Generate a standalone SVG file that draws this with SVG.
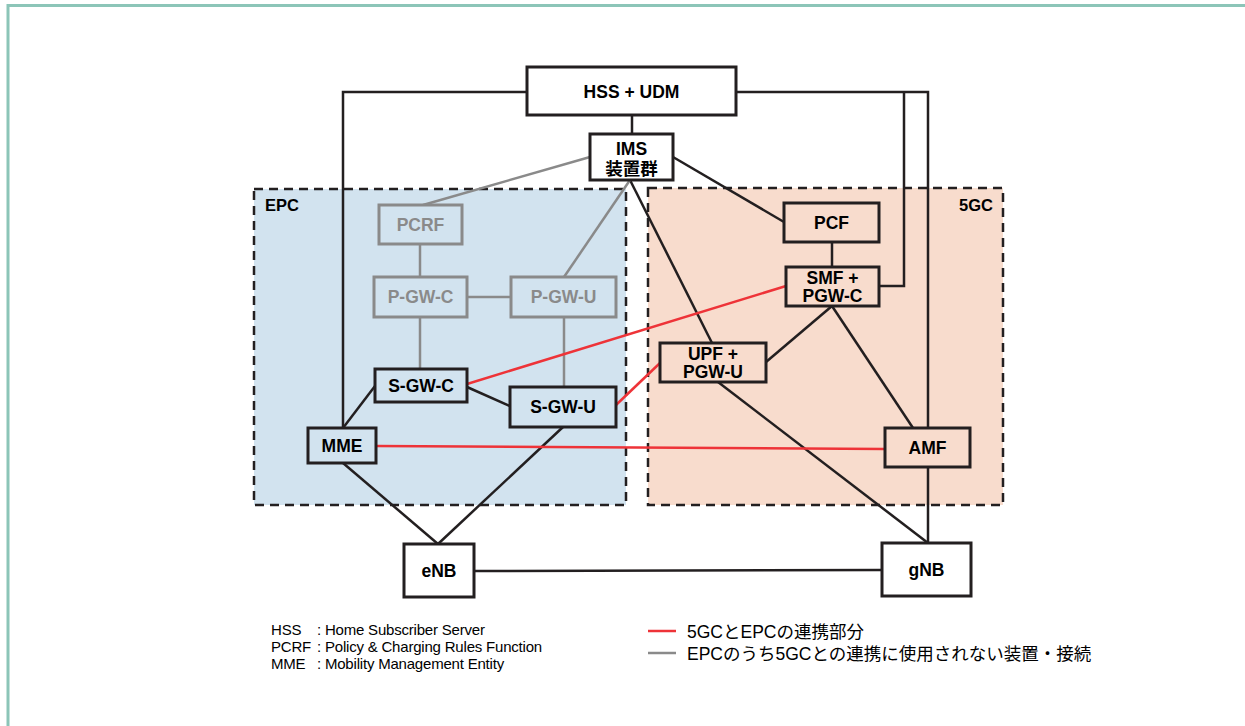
<svg xmlns="http://www.w3.org/2000/svg" width="1245" height="726" viewBox="0 0 1245 726">
<style>
.frame{fill:none;stroke:#8cc5b8;stroke-width:3}
.area{stroke:#231f20;stroke-width:2.5;stroke-dasharray:9 6}
.n rect{stroke:#231f20;stroke-width:3}
.n text{font-family:"Liberation Sans",Arial,"Noto Sans CJK JP",sans-serif;font-weight:bold;font-size:17.5px;fill:#000;text-anchor:middle}
.g rect{stroke:#8a8a8a}
.g text{fill:#8a8a8a}
.w{fill:#fff}
.b{fill:#d2e3ef}
.p{fill:#f8dccd}
.k{stroke:#231f20;stroke-width:2.5;fill:none}
.gr{stroke:#8a8a8a;stroke-width:2.5;fill:none}
.r{stroke:#ee3338;stroke-width:2.5;fill:none}
.lbl{font-family:"Liberation Sans",Arial,sans-serif;font-weight:bold;font-size:16.5px;fill:#000}
.leg{font-family:"Liberation Sans",Arial,sans-serif;font-size:15px;letter-spacing:-0.2px;fill:#000}
.legj{font-family:"Liberation Sans","Noto Sans CJK JP",sans-serif;font-size:17.5px;fill:#000}
</style>
<path class="frame" d="M8,726 V5.5 H1245"/>
<g id="areas">
<rect id="epc" class="area" x="254" y="189" width="372" height="316" fill="#d2e3ef"/>
<rect id="fivegc" class="area" x="648" y="188" width="355" height="317" fill="#f8dccd"/>
<text class="lbl" x="265" y="211">EPC</text>
<text class="lbl" x="993" y="211" text-anchor="end">5GC</text>
</g>
<g id="connectors">
<polyline class="k" points="527,92 343,92 343,428"/>
<polyline class="k" points="736,92 928,92 928,428"/>
<polyline class="k" points="904,92 904,286 879,286"/>
<line class="k" x1="632" y1="115" x2="632" y2="134"/>
<line class="k" x1="673" y1="157" x2="784" y2="222"/>
<line class="k" x1="630" y1="180" x2="712" y2="343"/>
<line class="k" x1="832" y1="242" x2="832" y2="267"/>
<line class="k" x1="832" y1="306" x2="766" y2="362"/>
<line class="k" x1="832" y1="306" x2="913" y2="428"/>
<line class="k" x1="718" y1="382" x2="928" y2="543"/>
<line class="k" x1="928" y1="467" x2="928" y2="543"/>
<line class="k" x1="375" y1="386" x2="343" y2="428"/>
<line class="k" x1="467" y1="387" x2="510" y2="406"/>
<line class="k" x1="343" y1="463" x2="438" y2="544"/>
<line class="k" x1="563" y1="427" x2="438" y2="544"/>
<line class="k" x1="473" y1="571" x2="882" y2="570"/>
<line class="gr" x1="590" y1="157" x2="423" y2="205"/>
<line class="gr" x1="630" y1="180" x2="564" y2="277"/>
<line class="gr" x1="420" y1="244" x2="420" y2="277"/>
<line class="gr" x1="467" y1="297" x2="511" y2="297"/>
<line class="gr" x1="420" y1="317" x2="420" y2="369"/>
<line class="gr" x1="564" y1="317" x2="564" y2="387"/>
<line class="r" x1="467" y1="384" x2="786" y2="286"/>
<line class="r" x1="616" y1="405" x2="660" y2="363"/>
<line class="r" x1="376" y1="446" x2="885" y2="449"/>
</g>
<g id="hss" class="n"><rect class="w" x="527" y="67" width="209" height="48"/><text x="631.5" y="98">HSS + UDM</text></g>
<g id="ims" class="n"><rect class="w" x="590" y="134" width="83" height="46"/><text x="631.5" y="155">IMS</text><text x="631.5" y="175">装置群</text></g>
<g id="pcrf" class="n g"><rect class="b" x="379" y="205" width="83" height="39"/><text x="420.5" y="231">PCRF</text></g>
<g id="pgwc" class="n g"><rect class="b" x="374" y="277" width="93" height="40"/><text x="420.5" y="303">P-GW-C</text></g>
<g id="pgwu" class="n g"><rect class="b" x="511" y="277" width="105" height="40"/><text x="563.5" y="303">P-GW-U</text></g>
<g id="sgwc" class="n"><rect class="b" x="375" y="369" width="92" height="33"/><text x="421" y="392">S-GW-C</text></g>
<g id="sgwu" class="n"><rect class="b" x="510" y="387" width="106" height="40"/><text x="563" y="413">S-GW-U</text></g>
<g id="mme" class="n"><rect class="b" x="308" y="428" width="68" height="35"/><text x="342" y="452">MME</text></g>
<g id="pcf" class="n"><rect class="p" x="784" y="203" width="95" height="39"/><text x="831.5" y="229">PCF</text></g>
<g id="smf" class="n"><rect class="p" x="786" y="267" width="93" height="39"/><text x="832.5" y="284">SMF +</text><text x="832.5" y="302">PGW-C</text></g>
<g id="upf" class="n"><rect class="p" x="660" y="343" width="106" height="39"/><text x="713" y="360">UPF +</text><text x="713" y="378">PGW-U</text></g>
<g id="amf" class="n"><rect class="p" x="885" y="428" width="85" height="39"/><text x="927.5" y="454">AMF</text></g>
<g id="enb" class="n"><rect class="w" x="404" y="544" width="70" height="53"/><text x="439" y="577">eNB</text></g>
<g id="gnb" class="n"><rect class="w" x="882" y="543" width="89" height="53"/><text x="926.5" y="576">gNB</text></g>
<g id="legend">
<text class="leg" x="271" y="635">HSS</text><text class="leg" x="317" y="635">: Home Subscriber Server</text>
<text class="leg" x="271" y="652">PCRF</text><text class="leg" x="317" y="652">: Policy &amp; Charging Rules Function</text>
<text class="leg" x="271" y="669">MME</text><text class="leg" x="317" y="669">: Mobility Management Entity</text>
<line class="r" x1="648" y1="631" x2="676" y2="631"/>
<text class="legj" x="687" y="638">5GCとEPCの連携部分</text>
<line class="gr" x1="648" y1="653" x2="676" y2="653"/>
<text class="legj" x="687" y="660">EPCのうち5GCとの連携に使用されない装置・接続</text>
</g>
</svg>
